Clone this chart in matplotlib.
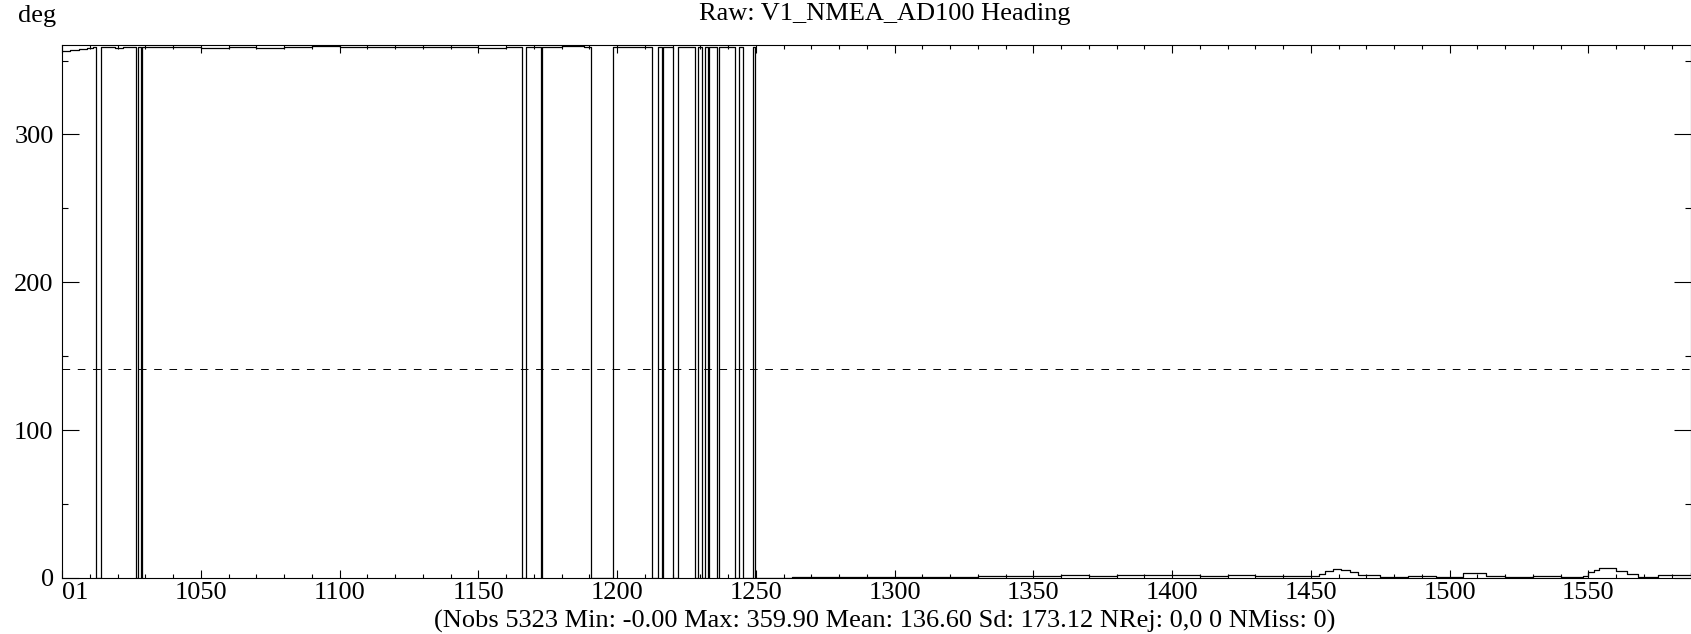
import numpy as np
import matplotlib
matplotlib.use("Agg")
import matplotlib.pyplot as plt
from matplotlib.ticker import MultipleLocator

plt.rcParams['font.family'] = ['Liberation Serif', 'DejaVu Serif']
plt.rcParams['lines.scale_dashes'] = False

# Heading (deg), high part ~359 before the drops
hi_x = [1000, 1003, 1006, 1009, 1011, 1016, 1019, 1022, 1025, 1032, 1040, 1050, 1060,
        1070, 1080, 1090, 1100, 1110, 1120, 1130, 1140, 1150, 1160, 1170, 1180, 1188,
        1200, 1208, 1218, 1225, 1235, 1240, 1249.0]
hi_y = [356.5, 357.3, 357.8, 358.6, 359.3, 358.9, 358.3, 358.9, 359.4, 359.0, 359.3, 358.8, 359.4,
        358.6, 359.1, 359.5, 359.0, 359.3, 358.9, 359.4, 359.2, 358.7, 359.3, 358.9, 359.5, 359.1,
        359.2, 359.4, 359.0, 359.3, 359.1, 359.2, 359.2]

# wrap-around drops to 0 deg (start, end)
gap_start = [1012.3, 1026.6, 1028.6, 1165.7, 1172.6, 1190.8, 1212.7, 1216.3, 1220.3,
             1228.1, 1230.5, 1232.9, 1236.1, 1242.4, 1245.4]
gap_end = [1013.9, 1027.3, 1028.8, 1167.2, 1172.9, 1198.7, 1214.7, 1216.5, 1222.1,
           1229.3, 1231.7, 1233.1, 1236.7, 1243.9, 1249.0]

# low part after the last drop
lo_x = [1249.6, 1259.4, 1263, 1268, 1272, 1280, 1290, 1300, 1310, 1320, 1330, 1340, 1350,
        1360, 1370, 1380, 1390, 1400, 1410, 1420, 1430, 1440, 1448, 1453, 1455, 1458, 1461,
        1464, 1467, 1475, 1485, 1495, 1505, 1508, 1513, 1520, 1530, 1540, 1548, 1550, 1552,
        1554, 1557, 1560, 1564, 1568, 1575, 1579, 1587]
lo_y = [0, 0.3, 0.5, 1.0, 0.4, 0.6, 0.5, 0.7, 0.8, 1.0, 1.2, 1.4, 1.6,
        1.7, 1.6, 1.8, 2.0, 1.7, 1.5, 1.8, 1.6, 1.2, 1.5, 2.5, 4.5, 5.8, 5.3,
        4.0, 2.0, 1.0, 1.2, 0.9, 3.2, 3.4, 1.5, 0.8, 1.3, 1.0, 1.2, 3.8, 5.5,
        6.8, 6.5, 5.0, 2.5, 1.0, 1.8, 2.0, 3.4]

moyenne = 141.3
x_ticks = [1000, 1050, 1100, 1150, 1200, 1250, 1300, 1350, 1400, 1450, 1500, 1550]
x_labels = ["01", "1050", "1100", "1150", "1200", "1250", "1300", "1350", "1400", "1450", "1500", "1550"]
titre = "Raw: V1_NMEA_AD100 Heading"
unite = "deg"
stats = "(Nobs 5323 Min: -0.00 Max: 359.90 Mean: 136.60 Sd: 173.12 NRej: 0,0 0 NMiss: 0)"

# assemble the trace (steps)
xs, ys = [], []
gi = 0
y_prev = hi_y[0]
for x, y in zip(hi_x, hi_y):
    while gi < len(gap_start) and gap_start[gi] < x:
        xs += [gap_start[gi], gap_end[gi]]
        ys += [0, y_prev]
        gi += 1
    xs.append(x)
    ys.append(y)
    y_prev = y
xs += lo_x
ys += lo_y

W, H = 1691, 634
fs = 19
fig = plt.figure(figsize=(W / 100, H / 100), dpi=100)
ax = fig.add_axes([62 / W, 56 / H, (W - 62) / W, (578 - 45) / H])

ax.plot(xs, ys, drawstyle="steps-post", color="black", lw=0.9)
ax.axhline(moyenne, color="black", lw=0.7, dashes=(5.5, 5.5))

ax.set_xlim(1000, 1587)
ax.set_ylim(0, 360.5)
ax.set_xticks(x_ticks)
ax.set_xticklabels(x_labels)
ax.get_xticklabels()[0].set_horizontalalignment("left")
ax.set_yticks([0, 100, 200, 300])
ax.xaxis.set_minor_locator(MultipleLocator(10))
ax.yaxis.set_minor_locator(MultipleLocator(50))

ax.tick_params(which="both", direction="in", top=True, right=True, labelsize=fs, colors="black")
ax.tick_params(axis="x", which="major", length=6, width=0.8, pad=3)
ax.tick_params(axis="x", which="minor", length=3, width=0.8)
ax.tick_params(axis="y", which="major", length=12, width=0.8, pad=6)
ax.tick_params(axis="y", which="minor", length=4, width=0.8)
for s in ax.spines.values():
    s.set_linewidth(0.8)

fig.text(18 / W, 1 - 16 / H, unite, ha="left", va="center", fontsize=fs)
fig.text(885 / W, 1 - 14 / H, titre, ha="center", va="center", fontsize=fs)
fig.text(885 / W, 1 - 621 / H, stats, ha="center", va="center", fontsize=fs)

fig.savefig("out.png", dpi=100)
plt.close()
